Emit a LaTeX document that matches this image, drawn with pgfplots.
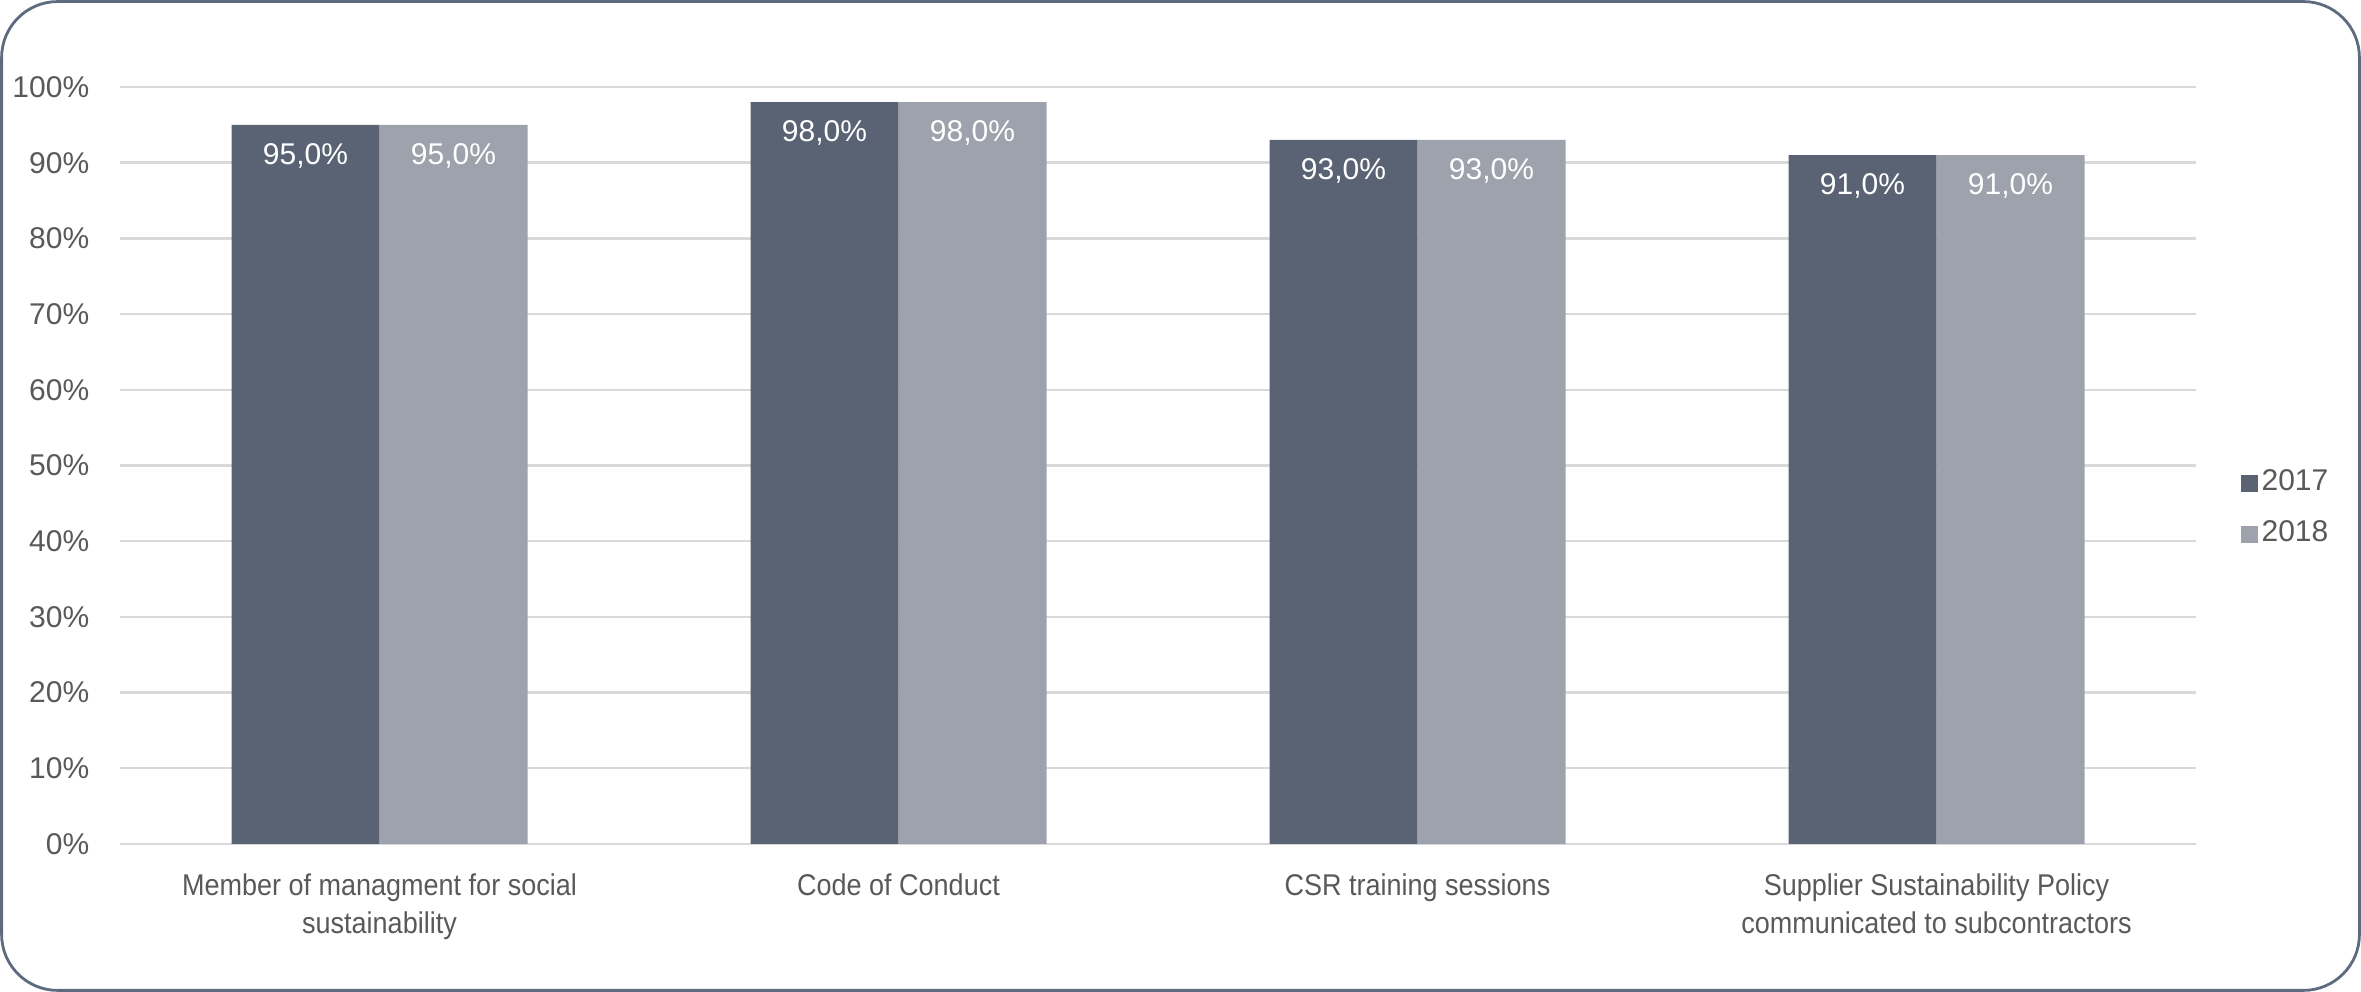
\documentclass[border=0pt]{standalone}
\usepackage{fontspec}
\setmainfont[FakeStretch=0.9]{Liberation Sans}
\newfontfamily\numfont{Liberation Sans}
\usepackage{pgfplots}
\pgfplotsset{compat=1.18}

\definecolor{bardark}{HTML}{5A6374}
\definecolor{barlight}{HTML}{9EA2AC}
\definecolor{labelgray}{HTML}{595959}
\definecolor{gridgray}{HTML}{D9D9D9}
\definecolor{framecol}{HTML}{5E6A7D}

\newcommand{\lbl}{\fontsize{7.5}{9.5}\selectfont}
\newcommand{\nlbl}{\numfont\fontsize{7.5}{9.5}\selectfont}

\begin{document}
\begin{tikzpicture}
\useasboundingbox (0,0) rectangle (590.25pt,248pt);
\draw[framecol, line width=0.7pt, rounded corners=14pt] (0.4pt,0.4pt) rectangle (589.85pt,247.6pt);
\begin{axis}[
    at={(30pt,37pt)}, anchor=south west,
    scale only axis,
    width=519pt, height=189.25pt,
    xmin=-0.5, xmax=3.5,
    ymin=0, ymax=100,
    ybar=0pt, bar width=37pt,
    axis line style={draw=none},
    tick style={draw=none},
    ymajorgrids,
    grid style={gridgray, line width=0.6pt},
    ytick={0,10,...,100},
    yticklabel={\pgfmathprintnumber{\tick}\%},
    /pgf/number format/assume math mode=true,
    yticklabel style={font=\nlbl, text=labelgray, inner sep=0pt, xshift=-7.5pt},
    xtick={0,1,2,3},
    xticklabels={{Member of managment for social\\sustainability},{Code of Conduct},{CSR training sessions},{Supplier Sustainability Policy\\communicated to subcontractors}},
    xticklabel style={font=\lbl, text=labelgray, align=center, inner sep=0pt, yshift=-2.9pt},
    nodes near coords={\pgfmathprintnumber[fixed,fixed zerofill,precision=1,use comma]{\pgfplotspointmeta}\%},
    every node near coord/.append style={font=\nlbl, text=white, anchor=north, inner sep=0pt, yshift=-4.5pt},
    legend style={at={(1,0.443)}, anchor=west, xshift=11pt, draw=none, fill=none, inner sep=0pt,
        font=\nlbl, text=labelgray, row sep=4pt,
        nodes={inner sep=1pt}},
    legend cell align=left,
    legend image code/.code={\fill[#1, draw=none] (0pt,-2.1pt) rectangle (4.2pt,2.1pt);},
]
\addplot[fill=bardark, draw=none] coordinates {(0,95) (1,98) (2,93) (3,91)};
\addplot[fill=barlight, draw=none] coordinates {(0,95) (1,98) (2,93) (3,91)};
\legend{2017,2018}
\end{axis}
\end{tikzpicture}
\end{document}
